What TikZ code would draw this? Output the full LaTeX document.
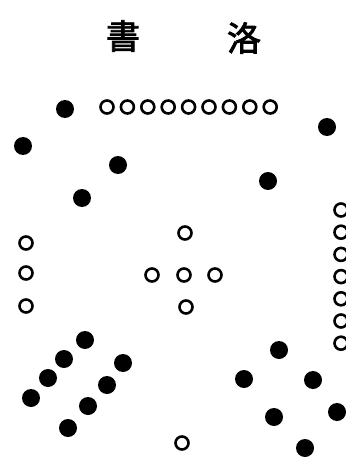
\documentclass[tikz,border=0pt]{standalone}
\usepackage{fontspec}
\newfontfamily\cjk{Noto Sans CJK TC}[FakeBold=2.5]
\tikzset{
  blackdot/.style={circle,fill=black,draw=none,minimum size=18pt,inner sep=0pt},
  whitedot/.style={circle,draw=black,line width=2.6pt,fill=white,minimum size=13pt,inner sep=0pt},
  titlechar/.style={font=\cjk\fontsize{34}{34}\selectfont,inner sep=0pt}
}
\begin{document}
\begin{tikzpicture}[x=1pt,y=-1pt]
\useasboundingbox (0,0) rectangle (345,457);
% title (read right to left)
\node[titlechar] (shu) at (123,36) {書};
\node[titlechar] (luo) at (244,38) {洛};
% 9 (top)
\foreach \i in {0,...,8} {
  \node[whitedot] (nine\i) at ({107+20.4*\i},107) {};
}
% 4 (top-left)
\node[blackdot] (fourA) at (65,109) {};
\node[blackdot] (fourB) at (23,146) {};
\node[blackdot] (fourC) at (118,165) {};
\node[blackdot] (fourD) at (82,198) {};
% 2 (top-right)
\node[blackdot] (twoA) at (327,127) {};
\node[blackdot] (twoB) at (268,181) {};
% 3 (left)
\node[whitedot] (threeA) at (26,243) {};
\node[whitedot] (threeB) at (26,273) {};
\node[whitedot] (threeC) at (26,306) {};
% 5 (centre)
\node[whitedot] (fiveN) at (185,233) {};
\node[whitedot] (fiveW) at (152,275) {};
\node[whitedot] (fiveC) at (184,275) {};
\node[whitedot] (fiveE) at (215,275) {};
\node[whitedot] (fiveS) at (186,307) {};
% 7 (right)
\foreach \i in {0,...,6} {
  \node[whitedot] (seven\i) at (341,{210+22.2*\i}) {};
}
% 8 (bottom-left)
\node[blackdot] (eightA) at (85,340) {};
\node[blackdot] (eightB) at (64,359) {};
\node[blackdot] (eightC) at (48,378) {};
\node[blackdot] (eightD) at (31,398) {};
\node[blackdot] (eightE) at (123,363) {};
\node[blackdot] (eightF) at (107,385) {};
\node[blackdot] (eightG) at (88,406) {};
\node[blackdot] (eightH) at (68,428) {};
% 6 (bottom-right)
\node[blackdot] (sixA) at (279,350) {};
\node[blackdot] (sixB) at (244,379) {};
\node[blackdot] (sixC) at (313,380) {};
\node[blackdot] (sixD) at (274,417) {};
\node[blackdot] (sixE) at (337,412) {};
\node[blackdot] (sixF) at (305,448) {};
% 1 (bottom)
\node[whitedot] (one) at (182,443) {};
\end{tikzpicture}
\end{document}
